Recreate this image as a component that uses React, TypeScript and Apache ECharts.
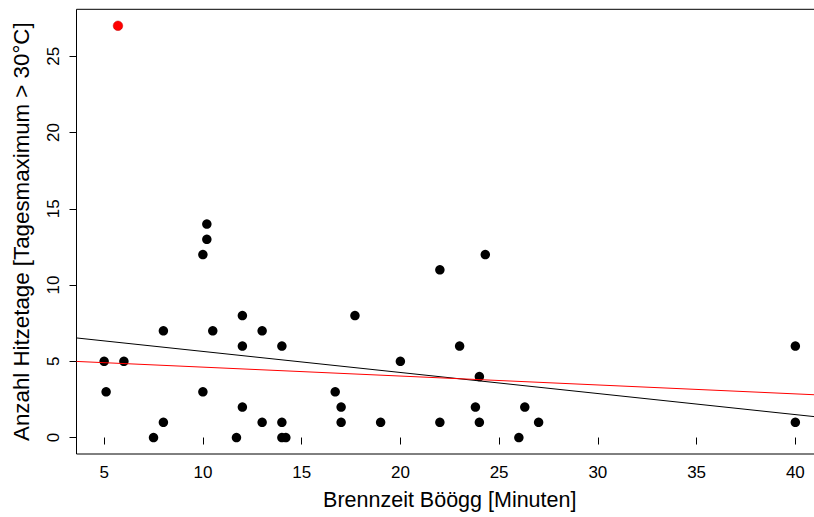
import React, { useEffect, useRef } from "react";
import * as echarts from "echarts";

const burnTime = [5, 5.1, 6, 7.5, 8, 8, 10, 10.2, 10.2, 10, 10.5, 11.7, 12, 12, 12, 13, 13, 14, 14, 14, 14.2, 16.7, 17, 17, 17.7, 19, 20, 22, 22, 23, 24.3, 23.8, 24, 24, 26, 26.3, 27, 40, 40];
const hotDays = [5, 3, 5, 0, 7, 1, 12, 14, 13, 3, 7, 0, 8, 6, 2, 7, 1, 6, 1, 0, 0, 3, 2, 1, 8, 1, 5, 11, 1, 6, 12, 2, 4, 1, 0, 2, 1, 6, 1];
const outlierX = [5.7];
const outlierY = [27];
const lineX = [3.6, 41.4];
const fitAllY = [6.53, 1.31];
const fitCleanY = [4.99, 2.78];
const xTicks = [5, 10, 15, 20, 25, 30, 35, 40];
const yTicks = [0, 5, 10, 15, 20, 25];

const FONT = "'Liberation Sans', Arial, Helvetica, sans-serif";

export default function App() {
  const ref = useRef<HTMLDivElement>(null);
  useEffect(() => {
    if (!ref.current) return;
    const chart = echarts.init(ref.current, null, { renderer: "svg" });
    chart.setOption({
      animation: false,
      backgroundColor: "#fff",
      grid: {
        left: 76.5,
        top: 9.3,
        width: 746.5,
        height: 444.7,
        outerBoundsMode: "none",
        containLabel: false,
        show: true,
        borderColor: "#000",
        borderWidth: 1,
        backgroundColor: "transparent",
      },
      xAxis: {
        type: "value",
        min: 3.6,
        max: 41.4,
        name: "Brennzeit Böögg [Minuten]",
        nameLocation: "middle",
        nameGap: 35,
        nameTextStyle: { fontFamily: FONT, fontSize: 21.5, color: "#000" },
        axisLine: { show: false },
        splitLine: { show: false },
        axisTick: { show: true, length: 7, customValues: xTicks, lineStyle: { color: "#000", width: 1 } },
        axisLabel: { customValues: xTicks, margin: 10, fontFamily: FONT, fontSize: 17, color: "#000" },
      },
      yAxis: {
        type: "value",
        min: -1.08,
        max: 28.08,
        name: "Anzahl Hitzetage [Tagesmaximum > 30°C]",
        nameLocation: "middle",
        nameGap: 44,
        nameRotate: 90,
        nameTextStyle: { fontFamily: FONT, fontSize: 22.3, color: "#000" },
        axisLine: { show: false },
        splitLine: { show: false },
        axisTick: { show: true, length: 7, customValues: yTicks, lineStyle: { color: "#000", width: 1 } },
        axisLabel: { customValues: yTicks, rotate: 90, margin: 15, fontFamily: FONT, fontSize: 17, color: "#000" },
      },
      series: [
        {
          type: "scatter",
          data: burnTime.map((x, i) => [x, hotDays[i]]),
          symbol: "circle",
          symbolSize: 9.5,
          itemStyle: { color: "#000", opacity: 1 },
          z: 2,
        },
        {
          type: "scatter",
          data: outlierX.map((x, i) => [x, outlierY[i]]),
          symbol: "circle",
          symbolSize: 9.5,
          itemStyle: { color: "#ff0000", borderColor: "#c00000", borderWidth: 0.5, opacity: 1 },
          z: 2,
        },
        {
          type: "line",
          data: lineX.map((x, i) => [x, fitAllY[i]]),
          showSymbol: false,
          symbol: "none",
          lineStyle: { color: "#000", width: 1 },
          z: 3,
        },
        {
          type: "line",
          data: lineX.map((x, i) => [x, fitCleanY[i]]),
          showSymbol: false,
          symbol: "none",
          lineStyle: { color: "#ff0000", width: 1 },
          z: 3,
        },
      ],
    });
    return () => chart.dispose();
  }, []);
  return (
    <div
      ref={ref}
      style={{ position: "fixed", left: 0, top: 0, width: 814, height: 517, background: "#fff" }}
    />
  );
}
